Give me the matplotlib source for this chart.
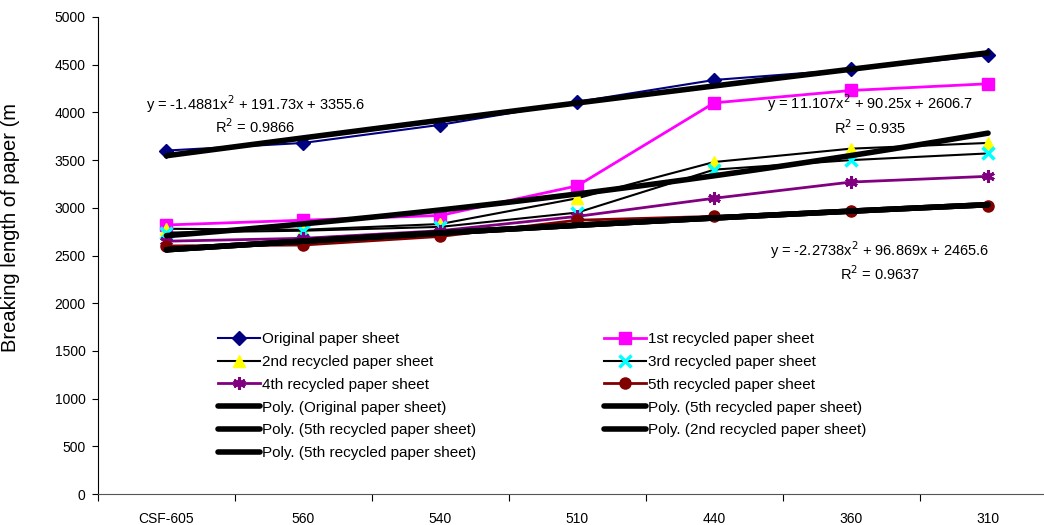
import matplotlib
matplotlib.use("Agg")
import matplotlib.pyplot as plt
import numpy as np

plt.rcParams['font.family'] = ['Liberation Sans', 'DejaVu Sans']

categories = ["CSF-605", "560", "540", "510", "440", "360", "310"]

original = [3600, 3680, 3870, 4110, 4340, 4450, 4600]
recycled_1 = [2820, 2870, 2920, 3230, 4100, 4230, 4300]
recycled_2 = [2780, 2770, 2830, 3100, 3480, 3620, 3680]
recycled_3 = [2740, 2760, 2800, 2950, 3400, 3500, 3570]
recycled_4 = [2650, 2680, 2760, 2910, 3100, 3270, 3330]
recycled_5 = [2600, 2610, 2700, 2870, 2910, 2970, 3020]

# trendline coefficients as printed on the chart (x = 1..7)
poly_original = [-1.4881, 191.73, 3355.6]
poly_recycled_2 = [11.107, 90.25, 2606.7]
poly_recycled_5 = [-2.2738, 96.869, 2465.6]

x = np.arange(1, len(categories) + 1)

fig = plt.figure(figsize=(10.44, 5.25), dpi=100)
ax = fig.add_axes([98 / 1044, 1 - 494 / 525, (1056.5 - 98) / 1044, (494 - 17) / 525])

h_orig, = ax.plot(x, original, color='#000080', marker='D', markersize=7, lw=1.5,
                  label="Original paper sheet")
h_r1, = ax.plot(x, recycled_1, color='#FF00FF', marker='s', markersize=8, lw=2,
                label="1st recycled paper sheet")
h_r2, = ax.plot(x, recycled_2, color='black', marker='^', markersize=8, lw=1.5,
                markerfacecolor='#FFFF00', markeredgecolor='#FFFF00',
                label="2nd recycled paper sheet")
h_r3, = ax.plot(x, recycled_3, color='black', marker='x', markersize=8, lw=1.5,
                markeredgecolor='#00FFFF', markeredgewidth=2.5,
                label="3rd recycled paper sheet")
h_r4, = ax.plot(x, recycled_4, color='#800080', marker=(6, 2, 0), markersize=9, lw=2,
                markeredgewidth=2.2, label="4th recycled paper sheet")
h_r5, = ax.plot(x, recycled_5, color='#800000', marker='o', markersize=8, lw=2,
                label="5th recycled paper sheet")

xs = np.linspace(1, 7, 100)
tw = 4
h_p0, = ax.plot(xs, np.polyval(poly_original, xs), color='black', lw=tw,
                solid_capstyle='round', label="Poly. (Original paper sheet)")
h_p5a, = ax.plot(xs, np.polyval(poly_recycled_5, xs), color='black', lw=tw,
                 solid_capstyle='round', label="Poly. (5th recycled paper sheet)")
h_p5b, = ax.plot(xs, np.polyval(poly_recycled_5, xs), color='black', lw=tw,
                 solid_capstyle='round', label="Poly. (5th recycled paper sheet)")
h_p2, = ax.plot(xs, np.polyval(poly_recycled_2, xs), color='black', lw=tw,
                solid_capstyle='round', label="Poly. (2nd recycled paper sheet)")
h_p5c, = ax.plot(xs, np.polyval(poly_recycled_5, xs), color='black', lw=tw,
                 solid_capstyle='round', label="Poly. (5th recycled paper sheet)")

ax.set_xlim(0.5, 7.5)
ax.set_ylim(0, 5000)
ax.set_yticks(np.arange(0, 5001, 500))
ax.tick_params(axis='y', length=4, pad=5, labelsize=10, direction='out')

ax.set_xticks(np.arange(0.5, 7.6, 1))
ax.set_xticklabels([])
ax.set_xticks(x, minor=True)
ax.set_xticklabels(categories, minor=True)
ax.tick_params(axis='x', which='major', length=5, direction='out')
ax.tick_params(axis='x', which='minor', length=0, pad=13, labelsize=10)

for s in ['top', 'right']:
    ax.spines[s].set_visible(False)
ax.spines['bottom'].set_color('#555555')

ax.set_ylabel("Breaking length of paper (m", fontsize=14.5, labelpad=10)
ax.yaxis.set_label_coords(-78 / 958.5, (494 - 228) / 477)

fs = 10.5
ax.text(1.65, 4088, "y = -1.4881x$^2$ + 191.73x + 3355.6", ha='center', va='center', fontsize=fs)
ax.text(1.65, 3847, "R$^2$ = 0.9866", ha='center', va='center', fontsize=fs)
ax.text(6.14, 4099, "y = 11.107x$^2$ + 90.25x + 2606.7", ha='center', va='center', fontsize=fs)
ax.text(6.14, 3836, "R$^2$ = 0.935", ha='center', va='center', fontsize=fs)
ax.text(6.21, 2558, "y = -2.2738x$^2$ + 96.869x + 2465.6", ha='center', va='center', fontsize=fs)
ax.text(6.21, 2306, "R$^2$ = 0.9637", ha='center', va='center', fontsize=fs)

leg_kw = dict(frameon=False, fontsize=11, handlelength=2.75, handletextpad=0.15,
              labelspacing=0.58, borderpad=0, borderaxespad=0, loc='upper left',
              bbox_transform=fig.transFigure)
leg1 = ax.legend(handles=[h_orig, h_r2, h_r4, h_p0, h_p5a, h_p5c],
                 bbox_to_anchor=(218 / 1044, 1 - 332 / 525), **leg_kw)
ax.add_artist(leg1)
ax.legend(handles=[h_r1, h_r3, h_r5, h_p5b, h_p2],
          bbox_to_anchor=(604 / 1044, 1 - 332 / 525), **leg_kw)

fig.savefig("out.png", dpi=100)
